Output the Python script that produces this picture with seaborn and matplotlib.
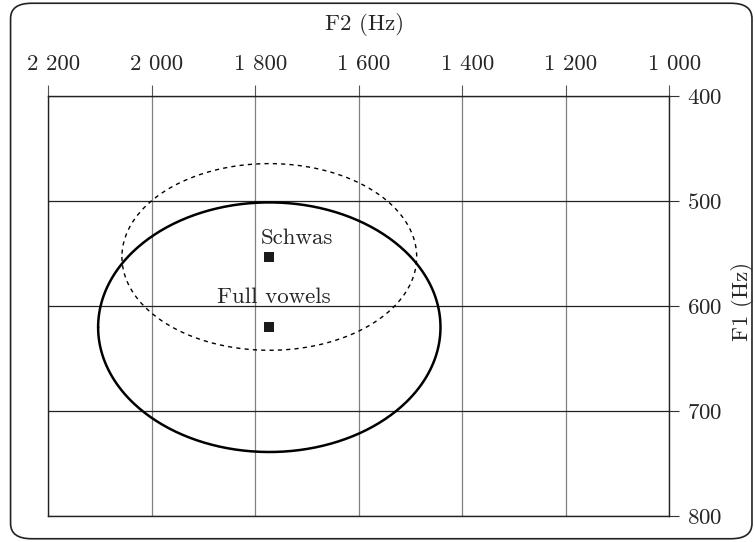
import numpy as np
import pandas as pd
import matplotlib
matplotlib.use("Agg")
import matplotlib.pyplot as plt
import matplotlib.transforms as mtransforms
from matplotlib.patches import FancyBboxPatch
import seaborn as sns

# Datos
grupos = ["Schwas", "Full vowels"]
f2_centro = [1773, 1773]
f1_centro = [553, 620]
f2_radio = [285, 331]
f1_radio = [89, 119]
estilos = ["dashed", "solid"]

f2_ticks = [2200, 2000, 1800, 1600, 1400, 1200, 1000]
f2_labels = ["2 200", "2 000", "1 800", "1 600", "1 400", "1 200", "1 000"]
f1_ticks = [400, 500, 600, 700, 800]

fs = 16.5
sns.set_style("white")
plt.rcParams["font.family"] = ["cmr10", "DejaVu Serif"]
plt.rcParams["axes.formatter.use_mathtext"] = True

fig = plt.figure(figsize=(7.55, 5.42), dpi=100)
ax = fig.add_axes([0.0642, 0.048, 0.822, 0.774])

# Elipses
t = np.linspace(0, 2 * np.pi, 400)
for i, g in enumerate(grupos):
    df_el = pd.DataFrame({
        "F2": f2_centro[i] + f2_radio[i] * np.cos(t),
        "F1": f1_centro[i] + f1_radio[i] * np.sin(t),
    })
    if estilos[i] == "dashed":
        ax.plot(df_el["F2"], df_el["F1"], color="black", lw=1.0,
                dashes=(3, 3), zorder=3)
    else:
        ax.plot(df_el["F2"], df_el["F1"], color="black", lw=1.8, zorder=3)

# Medias
df_pts = pd.DataFrame({"F2": f2_centro, "F1": f1_centro, "grupo": grupos})
sns.scatterplot(data=df_pts, x="F2", y="F1", marker="s", s=50, color="#1a1a1a",
                edgecolor="none", ax=ax, zorder=4, legend=False)
ax.text(1790, 541, "Schwas", fontsize=fs, ha="left", va="baseline")
ax.text(1764, 597, "Full vowels", fontsize=fs, ha="center", va="baseline")

ax.set_xlim(2200, 1000)
ax.set_ylim(800, 400)

ax.xaxis.tick_top()
ax.yaxis.tick_right()
ax.set_xticks(f2_ticks)
ax.set_xticklabels(f2_labels)
ax.set_yticks(f1_ticks)
ax.set_xlabel("")
ax.set_ylabel("")
ax.tick_params(axis="x", direction="out", length=8, width=0.8, color="#555555",
               pad=8, labelsize=fs)
ax.tick_params(axis="y", direction="out", length=7, width=0.8, color="#333333",
               pad=6, labelsize=fs)

# etiquetas de F2 un poco corridas a la derecha, como en el original
despl = mtransforms.ScaledTranslation(5 / 100, 0, fig.dpi_scale_trans)
for lab in ax.get_xticklabels():
    lab.set_transform(lab.get_transform() + despl)

fig.text(365 / 755, 1 - 24 / 542, "F2 (Hz)", fontsize=fs, ha="center", va="center")
fig.text(742 / 755, 1 - 301 / 542, "F1 (Hz)", fontsize=fs, ha="center",
         va="center", rotation=90)

for x in f2_ticks:
    ax.axvline(x, color="#808080", lw=0.9, zorder=1)
for y in f1_ticks:
    ax.axhline(y, color="#222222", lw=0.9, zorder=1)

for s in ax.spines.values():
    s.set_color("#222222")
    s.set_linewidth(1.0)

marco = FancyBboxPatch((0.014, 0.006), 0.982, 0.988, transform=fig.transFigure,
                       boxstyle="round,pad=0,rounding_size=0.028",
                       fill=False, edgecolor="#222222", lw=1.2)
fig.patches.append(marco)

fig.savefig("out.png", dpi=100)
